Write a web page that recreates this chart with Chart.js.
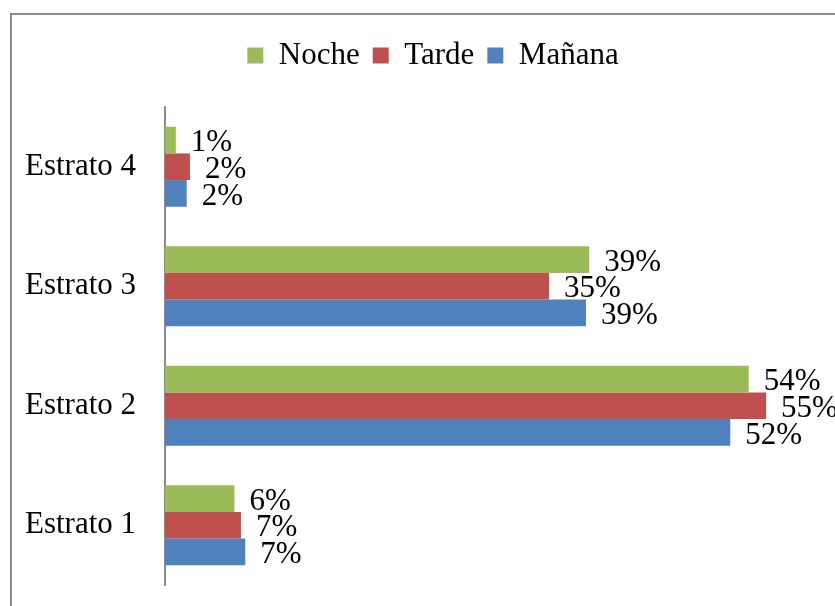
<!DOCTYPE html>
<html>
<head>
<meta charset="utf-8">
<script src="https://cdn.jsdelivr.net/npm/chart.js@4"></script>
<style>
  html, body { margin: 0; padding: 0; background: #fff; overflow: hidden; }
  #wrap { position: absolute; left: 0; top: 0; width: 835px; height: 606px; }
  #frame { position: absolute; left: 10px; top: 13px; width: 900px; height: 700px;
           border-left: 2px solid #8c8c8c; border-top: 2px solid #8c8c8c; }
  canvas { position: absolute; left: 0; top: 0; }
</style>
</head>
<body>
<div id="wrap">
  <div id="frame"></div>
  <canvas id="chart" width="835" height="606"></canvas>
</div>
<script>
  // ── Data ──────────────────────────────────────────────────
  const categories = ['Estrato 4', 'Estrato 3', 'Estrato 2', 'Estrato 1'];
  const noche  = [1.0, 39.1, 53.8, 6.4];
  const tarde  = [2.3, 35.4, 55.4, 7.0];
  const manana = [2.0, 38.8, 52.1, 7.4];

  const FONT = '"Liberation Serif", "Times New Roman", serif';
  const FONT_SIZE = 31;

  // value labels at bar ends
  const barLabels = {
    id: 'barLabels',
    afterDatasetsDraw(chart) {
      const ctx = chart.ctx;
      ctx.save();
      ctx.font = FONT_SIZE + 'px ' + FONT;
      ctx.fillStyle = '#000';
      ctx.textAlign = 'left';
      ctx.textBaseline = 'middle';
      chart.data.datasets.forEach(function (ds, i) {
        const meta = chart.getDatasetMeta(i);
        meta.data.forEach(function (bar, j) {
          const txt = Math.round(ds.data[j]) + '%';
          ctx.fillText(txt, bar.x + 15, bar.y + 3);
        });
      });
      ctx.restore();
    }
  };

  // legend: extra room under the row, and nudged right like the original
  const legendSpace = {
    id: 'legendSpace',
    beforeLayout(chart) {
      const lg = chart.legend;
      if (!lg || lg._patched) return;
      const fit = lg.fit;
      lg.fit = function () {
        fit.call(this);
        this.height += 26;
      };
      lg._patched = true;
    },
    afterLayout(chart) {
      const lg = chart.legend;
      if (!lg) return;
      lg.left += 25;
      lg.right += 25;
    }
  };

  new Chart(document.getElementById('chart'), {
    type: 'bar',
    data: {
      labels: categories,
      datasets: [
        { label: 'Noche',  data: noche,  backgroundColor: '#9BBB59' },
        { label: 'Tarde',  data: tarde,  backgroundColor: '#C0504D' },
        { label: 'Mañana', data: manana, backgroundColor: '#4F81BD' },
      ],
    },
    options: {
      indexAxis: 'y',
      responsive: false,
      animation: false,
      categoryPercentage: 0.67,
      barPercentage: 1.0,
      layout: { padding: { left: 0, right: 19, top: 25, bottom: 21 } },
      plugins: {
        tooltip: { enabled: false },
        legend: {
          position: 'top',
          labels: {
            color: '#000',
            font: { family: FONT, size: FONT_SIZE },
            boxWidth: 16,
            boxHeight: 16,
            padding: 13,
          },
        },
      },
      scales: {
        x: {
          display: false,
          min: 0,
          max: 60,
        },
        y: {
          grid: { display: false, drawTicks: false },
          border: { display: true, color: '#8c8c8c', width: 2 },
          ticks: {
            color: '#000',
            font: { family: FONT, size: FONT_SIZE },
            padding: 29,
          },
          afterFit: function (scale) {
            // fixed plot frame: axis at x=165, plot from y=107
            scale.width = 165;
            scale.paddingTop = 107;
            scale.paddingBottom = 0;
          },
        },
      },
    },
    plugins: [barLabels, legendSpace],
  });
</script>
</body>
</html>
